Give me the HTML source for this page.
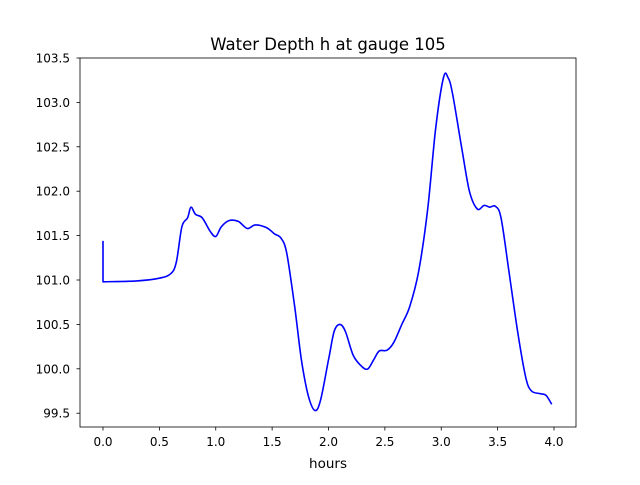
<!DOCTYPE html>
<html><head><meta charset="utf-8"><style>
body{margin:0;background:#fff;}
svg text{font-family:"DejaVu Sans","Liberation Sans",sans-serif;fill:#000;}
</style></head><body>
<svg width="640" height="480" viewBox="0 0 640 480">
<rect width="640" height="480" fill="#fff"/>
<text x="328" y="50" font-size="16.5" text-anchor="middle">Water Depth h at gauge 105</text>
<g id="xt"></g><g id="yt"></g>
<path id="line" fill="none" stroke="#0000ff" stroke-width="1.6" stroke-linejoin="round"/>
<rect x="80" y="58" width="496" height="369" fill="none" stroke="#000" stroke-width="0.8"/>
<text x="328" y="468" font-size="13.5" text-anchor="middle">hours</text>
</svg>
<script>
const hours=[0,0,0.3,0.5,0.6,0.65,0.7,0.75,0.78,0.82,0.88,0.95,1.0,1.05,1.12,1.2,1.28,1.35,1.45,1.52,1.58,1.63,1.7,1.76,1.82,1.88,1.93,2.0,2.05,2.1,2.15,2.22,2.3,2.35,2.4,2.45,2.52,2.58,2.65,2.72,2.8,2.88,2.95,3.02,3.06,3.1,3.18,3.25,3.32,3.38,3.43,3.48,3.53,3.6,3.68,3.75,3.8,3.88,3.93,3.98];
const depth=[101.44,100.98,100.99,101.02,101.07,101.2,101.6,101.7,101.82,101.74,101.7,101.55,101.49,101.6,101.67,101.66,101.58,101.62,101.59,101.52,101.47,101.3,100.7,100.1,99.7,99.53,99.65,100.1,100.42,100.5,100.42,100.15,100.02,100.0,100.1,100.2,100.21,100.3,100.5,100.7,101.1,101.8,102.7,103.28,103.28,103.1,102.5,102.0,101.8,101.84,101.82,101.83,101.7,101.1,100.4,99.9,99.75,99.72,99.7,99.6];
const xTicks=["0.0","0.5","1.0","1.5","2.0","2.5","3.0","3.5","4.0"];
const yTicks=["99.5","100.0","100.5","101.0","101.5","102.0","102.5","103.0","103.5"];
const X=v=>103+v*112.75, Y=v=>58+(103.5-v)*88.8;
const NS="http://www.w3.org/2000/svg";
const xt=document.getElementById('xt'), yt=document.getElementById('yt');
xTicks.forEach(t=>{const x=X(+t);
const l=document.createElementNS(NS,'line');l.setAttribute('x1',x);l.setAttribute('x2',x);l.setAttribute('y1',427);l.setAttribute('y2',430.5);l.setAttribute('stroke','#000');l.setAttribute('stroke-width','0.8');


xt.appendChild(l);
const s=document.createElementNS(NS,'text');s.setAttribute('x',x);s.setAttribute('y',446);s.setAttribute('font-size','12');s.setAttribute('text-anchor','middle');s.textContent=t;


xt.appendChild(s);});
yTicks.forEach(t=>{const y=Y(+t);
const l=document.createElementNS(NS,'line');l.setAttribute('x1',76.5);l.setAttribute('x2',80);l.setAttribute('y1',y);l.setAttribute('y2',y);l.setAttribute('stroke','#000');l.setAttribute('stroke-width','0.8');


yt.appendChild(l);
const s=document.createElementNS(NS,'text');s.setAttribute('x',70);s.setAttribute('y',y+4.5);s.setAttribute('font-size','12');s.setAttribute('text-anchor','end');s.textContent=t;


yt.appendChild(s);});
const P=hours.map((h,i)=>[X(h),Y(depth[i])]);
let d='M'+P[0][0].toFixed(1)+','+P[0][1].toFixed(1)+'L'+P[1][0].toFixed(1)+','+P[1][1].toFixed(1);
for(let i=1;i<P.length-1;i++){
const p0=P[i===1?1:i-1],p1=P[i],p2=P[i+1],p3=P[Math.min(i+2,P.length-1)];
const c1=[p1[0]+(p2[0]-p0[0])/6,p1[1]+(p2[1]-p0[1])/6];
const c2=[p2[0]-(p3[0]-p1[0])/6,p2[1]-(p3[1]-p1[1])/6];
d+='C'+c1.map(v=>v.toFixed(1)).join(',')+' '+c2.map(v=>v.toFixed(1)).join(',')+' '+p2.map(v=>v.toFixed(1)).join(',');
}
document.getElementById('line').setAttribute('d',d);
</script>
</body></html>
